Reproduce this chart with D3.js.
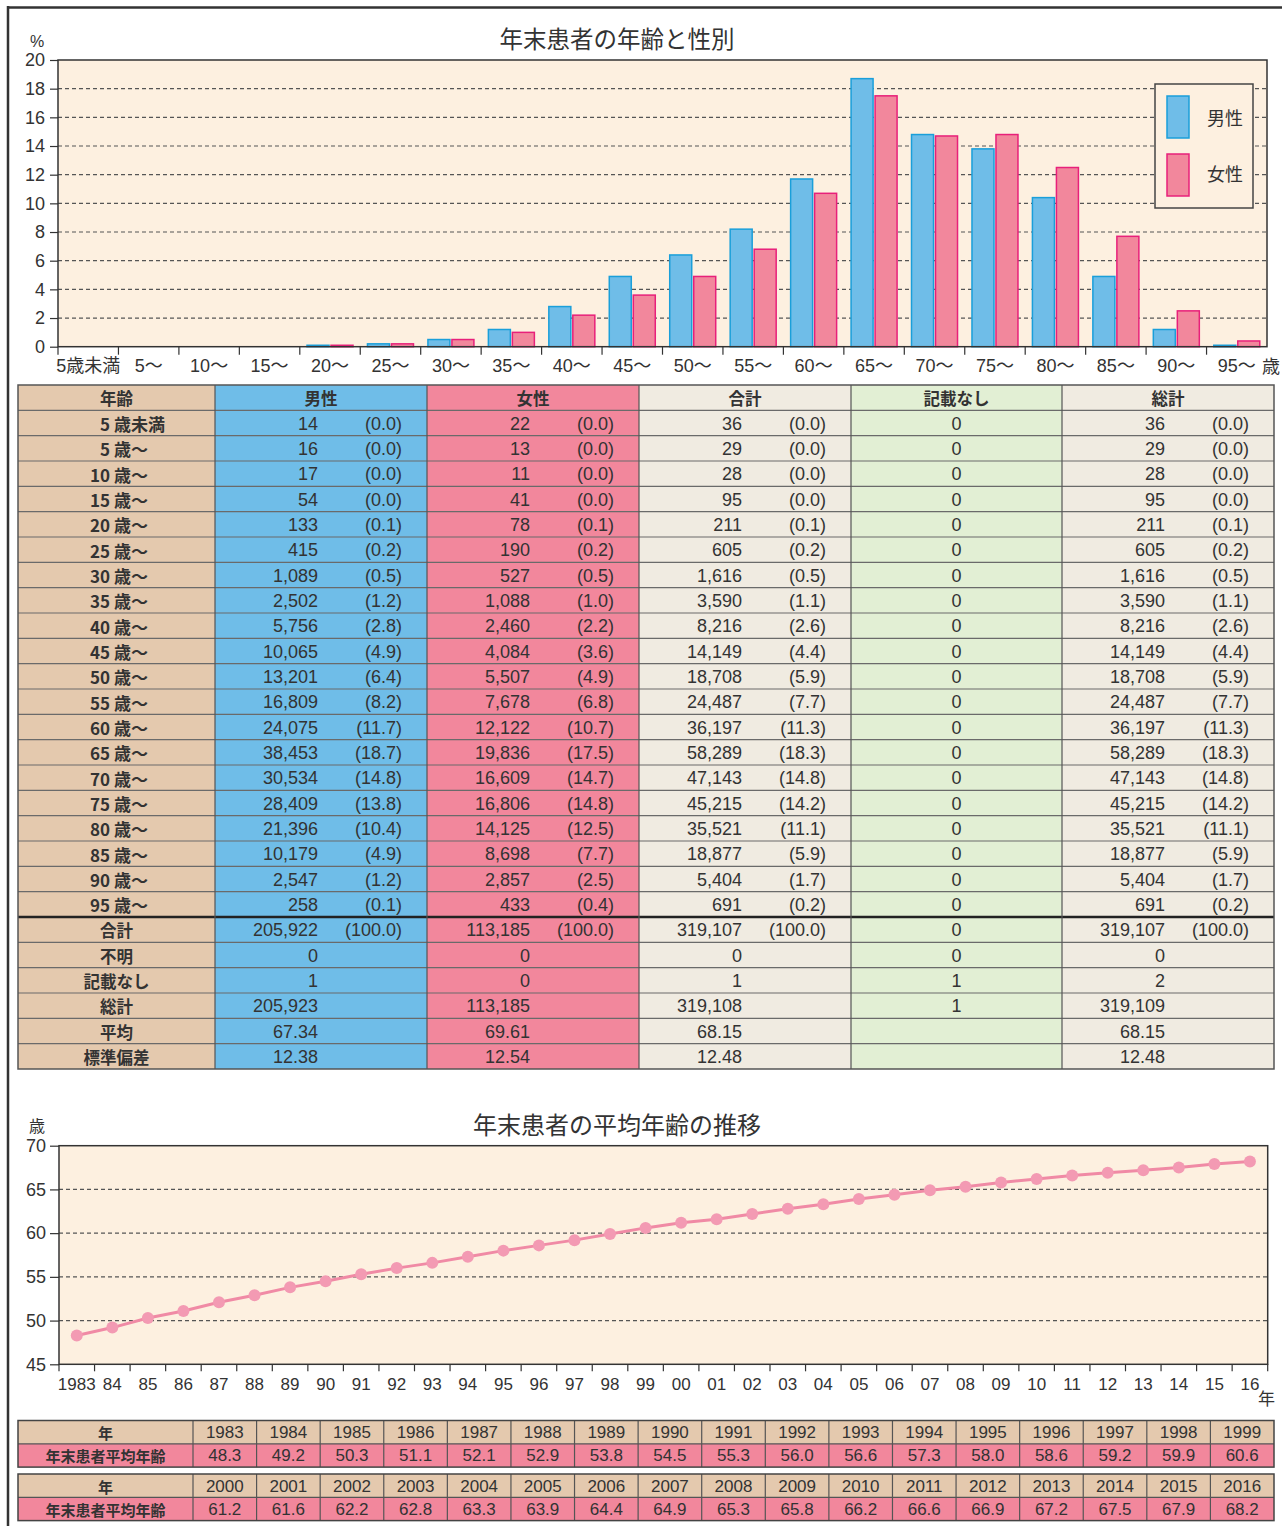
<!DOCTYPE html>
<html lang="ja">
<head>
<meta charset="UTF-8">
<title>年末患者の年齢と性別</title>
<script src="https://cdn.jsdelivr.net/npm/d3@7"></script>
<style>
  body { margin: 0; background: #fff; }
  svg { display: block; }
  text { fill: #333; }
</style>
</head>
<body>
<div id="chart"></div>
<script>
// ---- data ----
var ageGroups = ["5歳未満", "5〜", "10〜", "15〜", "20〜", "25〜", "30〜", "35〜", "40〜", "45〜",
                 "50〜", "55〜", "60〜", "65〜", "70〜", "75〜", "80〜", "85〜", "90〜", "95〜"];
var ageNums = ["5", "5", "10", "15", "20", "25", "30", "35", "40", "45",
               "50", "55", "60", "65", "70", "75", "80", "85", "90", "95"];
var maleCount = [14, 16, 17, 54, 133, 415, 1089, 2502, 5756, 10065, 13201, 16809, 24075, 38453, 30534, 28409, 21396, 10179, 2547, 258];
var malePct = [0.0, 0.0, 0.0, 0.0, 0.1, 0.2, 0.5, 1.2, 2.8, 4.9, 6.4, 8.2, 11.7, 18.7, 14.8, 13.8, 10.4, 4.9, 1.2, 0.1];
var femaleCount = [22, 13, 11, 41, 78, 190, 527, 1088, 2460, 4084, 5507, 7678, 12122, 19836, 16609, 16806, 14125, 8698, 2857, 433];
var femalePct = [0.0, 0.0, 0.0, 0.0, 0.1, 0.2, 0.5, 1.0, 2.2, 3.6, 4.9, 6.8, 10.7, 17.5, 14.7, 14.8, 12.5, 7.7, 2.5, 0.4];
var totalCount = [36, 29, 28, 95, 211, 605, 1616, 3590, 8216, 14149, 18708, 24487, 36197, 58289, 47143, 45215, 35521, 18877, 5404, 691];
var totalPct = [0.0, 0.0, 0.0, 0.0, 0.1, 0.2, 0.5, 1.1, 2.6, 4.4, 5.9, 7.7, 11.3, 18.3, 14.8, 14.2, 11.1, 5.9, 1.7, 0.2];
var noEntryCount = [0, 0, 0, 0, 0, 0, 0, 0, 0, 0, 0, 0, 0, 0, 0, 0, 0, 0, 0, 0];

var summaryLabels = ["合計", "不明", "記載なし", "総計", "平均", "標準偏差"];
var summaryMale = ["205,922", "0", "1", "205,923", "67.34", "12.38"];
var summaryFemale = ["113,185", "0", "0", "113,185", "69.61", "12.54"];
var summaryTotal = ["319,107", "0", "1", "319,108", "68.15", "12.48"];
var summaryNoEntry = ["0", "0", "1", "1", "", ""];
var summaryGrand = ["319,107", "0", "2", "319,109", "68.15", "12.48"];
var summaryPct = ["(100.0)", "", "", "", "", ""];

var years = [1983, 1984, 1985, 1986, 1987, 1988, 1989, 1990, 1991, 1992, 1993, 1994, 1995, 1996, 1997, 1998, 1999,
             2000, 2001, 2002, 2003, 2004, 2005, 2006, 2007, 2008, 2009, 2010, 2011, 2012, 2013, 2014, 2015, 2016];
var avgAge = [48.3, 49.2, 50.3, 51.1, 52.1, 52.9, 53.8, 54.5, 55.3, 56.0, 56.6, 57.3, 58.0, 58.6, 59.2, 59.9, 60.6,
              61.2, 61.6, 62.2, 62.8, 63.3, 63.9, 64.4, 64.9, 65.3, 65.8, 66.2, 66.6, 66.9, 67.2, 67.5, 67.9, 68.2];

// ---- styles ----
var numFont = "'Liberation Sans', 'Noto Sans CJK JP', sans-serif";
var jpFont = "'Noto Sans CJK JP', sans-serif";
var plotBg = "#fdf0e0";
var blueFill = "#6fbde8", blueStroke = "#1a9fda";
var pinkFill = "#f2879c", pinkStroke = "#e8207a";
var tan = "#e4c9ae", beige = "#f0ebe1", green = "#e2efd4";

var svg = d3.select("#chart").append("svg")
    .attr("width", 1282)
    .attr("height", 1526);

// outer frame (top + left only)
svg.append("line").attr("x1", 7).attr("x2", 1282).attr("y1", 7.5).attr("y2", 7.5)
    .attr("stroke", "#333").attr("stroke-width", 2.5);
svg.append("line").attr("x1", 8).attr("x2", 8).attr("y1", 6).attr("y2", 1526)
    .attr("stroke", "#333").attr("stroke-width", 2.5);

// ===== chart 1: bars =====
var c1 = { left: 58, right: 1267, top: 60, bottom: 346.7 };
var x1 = d3.scaleBand().domain(ageGroups).range([c1.left, c1.right]);
var y1 = d3.scaleLinear().domain([0, 20]).range([c1.bottom, c1.top]);

svg.append("text").attr("x", 617).attr("y", 38).attr("text-anchor", "middle")
    .attr("dominant-baseline", "central").style("font-family", jpFont).style("font-size", "23.5px")
    .text("年末患者の年齢と性別");
svg.append("text").attr("x", 37).attr("y", 41).attr("text-anchor", "middle")
    .attr("dominant-baseline", "central").style("font-family", numFont).style("font-size", "16px")
    .text("%");

svg.append("rect").attr("x", c1.left).attr("y", c1.top)
    .attr("width", c1.right - c1.left).attr("height", c1.bottom - c1.top)
    .attr("fill", plotBg);

svg.append("g").selectAll("line")
    .data(d3.range(2, 20, 2))
    .enter().append("line")
    .attr("x1", c1.left).attr("x2", c1.right)
    .attr("y1", function(d) { return y1(d); }).attr("y2", function(d) { return y1(d); })
    .attr("stroke", "#555").attr("stroke-width", 1.2).attr("stroke-dasharray", "4,3");

var barW = 22, barGap = 2;
var bars = svg.append("g");
bars.selectAll("rect.m")
    .data(malePct)
    .enter().append("rect").attr("class", "m")
    .attr("x", function(d, i) { return x1(ageGroups[i]) + (x1.bandwidth() - 2 * barW - barGap) / 2; })
    .attr("y", function(d) { return y1(d); })
    .attr("width", barW)
    .attr("height", function(d) { return c1.bottom - y1(d); })
    .attr("fill", blueFill).attr("stroke", blueStroke).attr("stroke-width", 1.5);
bars.selectAll("rect.f")
    .data(femalePct)
    .enter().append("rect").attr("class", "f")
    .attr("x", function(d, i) { return x1(ageGroups[i]) + (x1.bandwidth() - 2 * barW - barGap) / 2 + barW + barGap; })
    .attr("y", function(d) { return y1(d); })
    .attr("width", barW)
    .attr("height", function(d) { return c1.bottom - y1(d); })
    .attr("fill", pinkFill).attr("stroke", pinkStroke).attr("stroke-width", 1.5);

// legend
var lg = svg.append("g");
lg.append("rect").attr("x", 1155).attr("y", 84).attr("width", 98).attr("height", 124)
    .attr("fill", plotBg).attr("stroke", "#444").attr("stroke-width", 1.5);
lg.append("rect").attr("x", 1167).attr("y", 96).attr("width", 22).attr("height", 42)
    .attr("fill", blueFill).attr("stroke", blueStroke).attr("stroke-width", 1.5);
lg.append("rect").attr("x", 1167).attr("y", 154).attr("width", 22).attr("height", 42)
    .attr("fill", pinkFill).attr("stroke", pinkStroke).attr("stroke-width", 1.5);
lg.append("text").attr("x", 1207).attr("y", 117).attr("dominant-baseline", "central")
    .style("font-family", jpFont).style("font-size", "18px").text("男性");
lg.append("text").attr("x", 1207).attr("y", 173).attr("dominant-baseline", "central")
    .style("font-family", jpFont).style("font-size", "18px").text("女性");

svg.append("rect").attr("x", c1.left).attr("y", c1.top)
    .attr("width", c1.right - c1.left).attr("height", c1.bottom - c1.top)
    .attr("fill", "none").attr("stroke", "#333").attr("stroke-width", 1.5);

var yAxis1 = svg.append("g").attr("transform", "translate(" + c1.left + ",0)")
    .call(d3.axisLeft(y1).tickValues(d3.range(0, 21, 2)).tickSize(8).tickPadding(5));
yAxis1.select(".domain").remove();
yAxis1.selectAll("line").attr("stroke", "#333").attr("stroke-width", 1.2);
yAxis1.selectAll("text").style("font-family", numFont).style("font-size", "18px").attr("fill", "#333");

var xAxis1 = svg.append("g").attr("transform", "translate(0," + c1.bottom + ")")
    .call(d3.axisBottom(x1).tickSize(0).tickPadding(13));
xAxis1.select(".domain").remove();
xAxis1.selectAll("text").style("font-family", numFont).style("font-size", "18px").attr("fill", "#333");
svg.append("g").selectAll("line")
    .data(d3.range(0, ageGroups.length))
    .enter().append("line")
    .attr("x1", function(d) { return x1(ageGroups[d]); })
    .attr("x2", function(d) { return x1(ageGroups[d]); })
    .attr("y1", c1.bottom).attr("y2", c1.bottom + 8)
    .attr("stroke", "#333").attr("stroke-width", 1.2);
svg.append("text").attr("x", 1262).attr("y", 365).attr("dominant-baseline", "central")
    .style("font-family", jpFont).style("font-size", "18px").text("歳");

// ===== table 1 =====
var t1 = { top: 385, rowH: 684 / 27 };
var t1Cols = [18, 215, 427, 639, 851, 1062, 1274];
var t1Fill = [tan, blueFill, pinkFill, beige, green, beige];
var t1Head = ["年齢", "男性", "女性", "合計", "記載なし", "総計"];
var nRows = 1 + ageGroups.length + summaryLabels.length;
var t1Bottom = t1.top + nRows * t1.rowH;
var tbl = svg.append("g");

tbl.selectAll("rect.col").data(t1Fill).enter().append("rect").attr("class", "col")
    .attr("x", function(d, i) { return t1Cols[i]; })
    .attr("y", t1.top)
    .attr("width", function(d, i) { return t1Cols[i + 1] - t1Cols[i]; })
    .attr("height", t1Bottom - t1.top)
    .attr("fill", function(d) { return d; });

tbl.selectAll("line.h").data(d3.range(1, nRows)).enter().append("line").attr("class", "h")
    .attr("x1", t1Cols[0]).attr("x2", t1Cols[6])
    .attr("y1", function(d) { return t1.top + d * t1.rowH; })
    .attr("y2", function(d) { return t1.top + d * t1.rowH; })
    .attr("stroke", function(d) { return d === 21 ? "#222" : "#6a6a6a"; })
    .attr("stroke-width", function(d) { return d === 21 ? 2.5 : 1.2; });
tbl.selectAll("line.v").data(t1Cols.slice(1, 6)).enter().append("line").attr("class", "v")
    .attr("x1", function(d) { return d; }).attr("x2", function(d) { return d; })
    .attr("y1", t1.top).attr("y2", t1Bottom)
    .attr("stroke", "#555").attr("stroke-width", 1.2);
tbl.append("rect").attr("x", t1Cols[0]).attr("y", t1.top)
    .attr("width", t1Cols[6] - t1Cols[0]).attr("height", t1Bottom - t1.top)
    .attr("fill", "none").attr("stroke", "#555").attr("stroke-width", 1.5);

function cellText(x, row, txt, anchor, font, weight, size) {
    tbl.append("text")
        .attr("x", x).attr("y", t1.top + (row + 0.5) * t1.rowH + 0.5)
        .attr("text-anchor", anchor).attr("dominant-baseline", "central")
        .style("font-family", font).style("font-weight", weight || "normal")
        .style("font-size", (size || 17) + "px")
        .text(txt);
}

t1Head.forEach(function(h, i) {
    cellText((t1Cols[i] + t1Cols[i + 1]) / 2, 0, h, "middle", jpFont, "bold", 16.5);
});

var fmt = d3.format(",");
var fmtPct = function(v) { return "(" + v.toFixed(1) + ")"; };
var numOff = 103, pctOff = 187;

ageNums.forEach(function(n, i) {
    var r = i + 1;
    cellText(110, r, n, "end", jpFont, "bold", 17);
    cellText(114, r, i === 0 ? "歳未満" : "歳〜", "start", jpFont, "bold", 17);
    cellText(t1Cols[1] + numOff, r, fmt(maleCount[i]), "end", numFont, "normal", 18);
    cellText(t1Cols[1] + pctOff, r, fmtPct(malePct[i]), "end", numFont, "normal", 18);
    cellText(t1Cols[2] + numOff, r, fmt(femaleCount[i]), "end", numFont, "normal", 18);
    cellText(t1Cols[2] + pctOff, r, fmtPct(femalePct[i]), "end", numFont, "normal", 18);
    cellText(t1Cols[3] + numOff, r, fmt(totalCount[i]), "end", numFont, "normal", 18);
    cellText(t1Cols[3] + pctOff, r, fmtPct(totalPct[i]), "end", numFont, "normal", 18);
    cellText((t1Cols[4] + t1Cols[5]) / 2, r, fmt(noEntryCount[i]), "middle", numFont, "normal", 18);
    cellText(t1Cols[5] + numOff, r, fmt(totalCount[i]), "end", numFont, "normal", 18);
    cellText(t1Cols[5] + pctOff, r, fmtPct(totalPct[i]), "end", numFont, "normal", 18);
});

summaryLabels.forEach(function(s, i) {
    var r = 1 + ageGroups.length + i;
    cellText((t1Cols[0] + t1Cols[1]) / 2, r, s, "middle", jpFont, "bold", 16.5);
    cellText(t1Cols[1] + numOff, r, summaryMale[i], "end", numFont, "normal", 18);
    cellText(t1Cols[1] + pctOff, r, summaryPct[i], "end", numFont, "normal", 18);
    cellText(t1Cols[2] + numOff, r, summaryFemale[i], "end", numFont, "normal", 18);
    cellText(t1Cols[2] + pctOff, r, summaryPct[i], "end", numFont, "normal", 18);
    cellText(t1Cols[3] + numOff, r, summaryTotal[i], "end", numFont, "normal", 18);
    cellText(t1Cols[3] + pctOff, r, summaryPct[i], "end", numFont, "normal", 18);
    cellText((t1Cols[4] + t1Cols[5]) / 2, r, summaryNoEntry[i], "middle", numFont, "normal", 18);
    cellText(t1Cols[5] + numOff, r, summaryGrand[i], "end", numFont, "normal", 18);
    cellText(t1Cols[5] + pctOff, r, summaryPct[i], "end", numFont, "normal", 18);
});

// ===== chart 2: line =====
var c2 = { left: 59, right: 1267.7, top: 1145.7, bottom: 1364.3 };
var x2 = d3.scaleBand().domain(years).range([c2.left, c2.right]);
var y2 = d3.scaleLinear().domain([45, 70]).range([c2.bottom, c2.top]);

svg.append("text").attr("x", 617).attr("y", 1123).attr("text-anchor", "middle")
    .attr("dominant-baseline", "central").style("font-family", jpFont).style("font-size", "24px")
    .text("年末患者の平均年齢の推移");
svg.append("text").attr("x", 37).attr("y", 1125).attr("text-anchor", "middle")
    .attr("dominant-baseline", "central").style("font-family", jpFont).style("font-size", "16px")
    .text("歳");

svg.append("rect").attr("x", c2.left).attr("y", c2.top)
    .attr("width", c2.right - c2.left).attr("height", c2.bottom - c2.top)
    .attr("fill", plotBg);
svg.append("g").selectAll("line")
    .data([50, 55, 60, 65])
    .enter().append("line")
    .attr("x1", c2.left).attr("x2", c2.right)
    .attr("y1", function(d) { return y2(d); }).attr("y2", function(d) { return y2(d); })
    .attr("stroke", "#555").attr("stroke-width", 1.2).attr("stroke-dasharray", "4,3");

var line = d3.line()
    .x(function(d, i) { return x2(years[i]) + x2.bandwidth() / 2; })
    .y(function(d) { return y2(d); });
svg.append("path").datum(avgAge).attr("d", line)
    .attr("fill", "none").attr("stroke", "#f08aa5").attr("stroke-width", 3);
svg.append("g").selectAll("circle")
    .data(avgAge)
    .enter().append("circle")
    .attr("cx", function(d, i) { return x2(years[i]) + x2.bandwidth() / 2; })
    .attr("cy", function(d) { return y2(d); })
    .attr("r", 6)
    .attr("fill", "#f39ab3");

svg.append("rect").attr("x", c2.left).attr("y", c2.top)
    .attr("width", c2.right - c2.left).attr("height", c2.bottom - c2.top)
    .attr("fill", "none").attr("stroke", "#333").attr("stroke-width", 1.5);

var yAxis2 = svg.append("g").attr("transform", "translate(" + c2.left + ",0)")
    .call(d3.axisLeft(y2).tickValues([45, 50, 55, 60, 65, 70]).tickSize(9).tickPadding(4));
yAxis2.select(".domain").remove();
yAxis2.selectAll("line").attr("stroke", "#333").attr("stroke-width", 1.2);
yAxis2.selectAll("text").style("font-family", numFont).style("font-size", "18px").attr("fill", "#333");

var xAxis2 = svg.append("g").attr("transform", "translate(0," + c2.bottom + ")")
    .call(d3.axisBottom(x2).tickSize(0).tickPadding(14)
        .tickFormat(function(d) { return d === 1983 ? "1983" : String(d).slice(2); }));
xAxis2.select(".domain").remove();
xAxis2.selectAll("text").style("font-family", numFont)
    .style("font-size", "17px").attr("fill", "#333");
svg.append("g").selectAll("line")
    .data(d3.range(0, years.length + 1))
    .enter().append("line")
    .attr("x1", function(d) { return c2.left + d * x2.bandwidth(); })
    .attr("x2", function(d) { return c2.left + d * x2.bandwidth(); })
    .attr("y1", c2.bottom).attr("y2", c2.bottom + 7)
    .attr("stroke", "#333").attr("stroke-width", 1.2);
svg.append("text").attr("x", 1258).attr("y", 1397).attr("dominant-baseline", "central")
    .style("font-family", jpFont).style("font-size", "17px").text("年");

// ===== year tables =====
var yt = { left: 18, labelRight: 193, right: 1274, rowH: 23.3 };
var ytTops = [1420.5, 1474];
var perRow = 17;
var colW = (yt.right - yt.labelRight) / perRow;

ytTops.forEach(function(top, k) {
    var ys = years.slice(k * perRow, (k + 1) * perRow);
    var vs = avgAge.slice(k * perRow, (k + 1) * perRow);
    var g = svg.append("g");
    g.append("rect").attr("x", yt.left).attr("y", top).attr("width", yt.right - yt.left)
        .attr("height", yt.rowH).attr("fill", tan);
    g.append("rect").attr("x", yt.left).attr("y", top + yt.rowH).attr("width", yt.right - yt.left)
        .attr("height", yt.rowH).attr("fill", pinkFill);
    g.append("line").attr("x1", yt.left).attr("x2", yt.right)
        .attr("y1", top + yt.rowH).attr("y2", top + yt.rowH)
        .attr("stroke", "#555").attr("stroke-width", 1.2);
    g.selectAll("line.v").data(d3.range(0, perRow)).enter().append("line").attr("class", "v")
        .attr("x1", function(d) { return yt.labelRight + d * colW; })
        .attr("x2", function(d) { return yt.labelRight + d * colW; })
        .attr("y1", top).attr("y2", top + 2 * yt.rowH)
        .attr("stroke", "#555").attr("stroke-width", 1.2);
    g.append("rect").attr("x", yt.left).attr("y", top).attr("width", yt.right - yt.left)
        .attr("height", 2 * yt.rowH).attr("fill", "none").attr("stroke", "#444").attr("stroke-width", 1.5);

    g.append("text").attr("x", (yt.left + yt.labelRight) / 2).attr("y", top + yt.rowH / 2 + 0.5)
        .attr("text-anchor", "middle").attr("dominant-baseline", "central")
        .style("font-family", jpFont).style("font-weight", "bold").style("font-size", "15px").text("年");
    g.append("text").attr("x", (yt.left + yt.labelRight) / 2).attr("y", top + 1.5 * yt.rowH + 0.5)
        .attr("text-anchor", "middle").attr("dominant-baseline", "central")
        .style("font-family", jpFont).style("font-weight", "bold").style("font-size", "15px").text("年末患者平均年齢");

    g.selectAll("text.yr").data(ys).enter().append("text").attr("class", "yr")
        .attr("x", function(d, i) { return yt.labelRight + (i + 0.5) * colW; })
        .attr("y", top + yt.rowH / 2 + 0.5)
        .attr("text-anchor", "middle").attr("dominant-baseline", "central")
        .style("font-family", numFont).style("font-size", "17px")
        .text(function(d) { return d; });
    g.selectAll("text.val").data(vs).enter().append("text").attr("class", "val")
        .attr("x", function(d, i) { return yt.labelRight + (i + 0.5) * colW; })
        .attr("y", top + 1.5 * yt.rowH + 0.5)
        .attr("text-anchor", "middle").attr("dominant-baseline", "central")
        .style("font-family", numFont).style("font-size", "17px")
        .text(function(d) { return d.toFixed(1); });
});
</script>
</body>
</html>
